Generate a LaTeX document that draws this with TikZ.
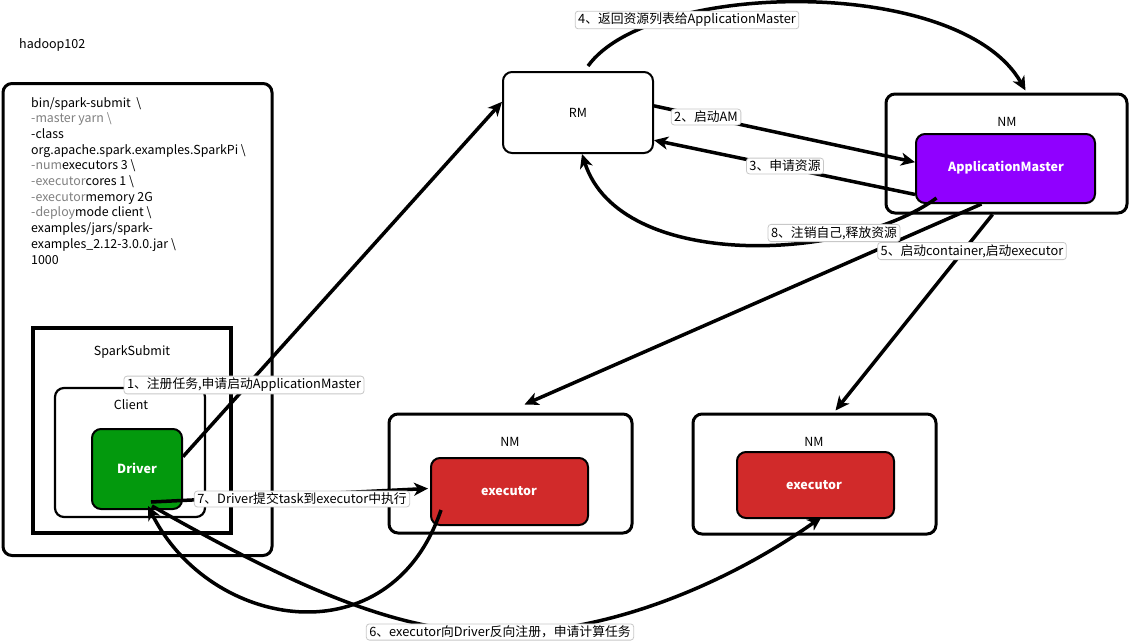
\documentclass[tikz,border=0pt]{standalone}
\usepackage{fontspec}
\setmainfont{Noto Sans CJK SC}
\usetikzlibrary{arrows.meta,calc}
\definecolor{drvgreen}{RGB}{3,153,13}
\definecolor{ampurple}{RGB}{144,0,255}
\definecolor{exred}{RGB}{209,42,42}
\definecolor{cmdgray}{RGB}{128,128,128}
\definecolor{labborder}{RGB}{200,200,200}
\tikzset{
  bigbox/.style={draw=black, line width=3pt, rounded corners=9pt, fill=white},
  sqbox/.style={draw=black, line width=3.5pt},
  inbox/.style={draw=black, line width=2.2pt, rounded corners=9pt},
  txt/.style={font=\fontsize{12.5}{14}\selectfont, inner sep=0pt},
  wtxt/.style={font=\fontsize{12.5}{14}\selectfont\bfseries, text=white, inner sep=0pt},
  arr/.style={line width=3.5pt, -{Stealth[length=14pt,width=13pt,inset=4pt]}},
  lab/.style={draw=labborder, line width=0.8pt, fill=white, rounded corners=3pt,
    inner xsep=3pt, inner ysep=2pt, font=\fontsize{12.8}{14}\selectfont}
}
\begin{document}
\begin{tikzpicture}[x=1pt,y=-1pt]
\useasboundingbox (0,0) rectangle (1129,642);
\fill[white] (0,0) rectangle (1129,642);

% host label
\node[txt, anchor=west] (host) at (19,45) {hadoop102};

% left machine
\node[bigbox, minimum width=269pt, minimum height=472pt] (outer) at (137.5,319.5) {};
\node[txt, anchor=north west, align=left, font=\fontsize{12.4}{15.7}\selectfont] (cmd) at (31,97)
 {bin/spark-submit \ \textbackslash\\
  \textcolor{cmdgray}{-master yarn \textbackslash}\\
  -class\\
  org.apache.spark.examples.SparkPi \textbackslash\\
  \textcolor{cmdgray}{-num}executors 3 \textbackslash\\
  \textcolor{cmdgray}{-executor}cores 1 \textbackslash\\
  \textcolor{cmdgray}{-executor}memory 2G\\
  \textcolor{cmdgray}{-deploy}mode client \textbackslash\\
  examples/jars/spark-\\
  examples\_2.12-3.0.0.jar \textbackslash\\
  1000};

\node[sqbox, minimum width=198pt, minimum height=205pt] (ss) at (132,430.5) {};
\node[txt] (sslab) at (132,352) {SparkSubmit};
\node[inbox, minimum width=150pt, minimum height=129pt] (client) at (130,452.5) {};
\node[txt] (clientlab) at (131,405) {Client};
\node[draw=black, line width=2pt, rounded corners=9pt, fill=drvgreen,
      minimum width=90pt, minimum height=80pt] (driver) at (137,469) {};
\node[wtxt] (drvlab) at (137,468) {Driver};

% RM
\node[draw=black, line width=2pt, rounded corners=9pt, fill=white,
      minimum width=150pt, minimum height=81pt] (rm) at (578,112.5) {};
\node[txt] (rmlab) at (578,113) {RM};

% NM with AM
\node[bigbox, minimum width=241pt, minimum height=119pt] (nm1) at (1006.5,153.5) {};
\node[txt] (nm1lab) at (1007,122) {NM};
\node[draw=black, line width=2pt, rounded corners=9pt, fill=ampurple,
      minimum width=179pt, minimum height=69pt] (am) at (1005.5,168.5) {};
\node[wtxt] (amlab) at (1006,168) {ApplicationMaster};

% NM with executor (middle)
\node[bigbox, minimum width=243pt, minimum height=119pt] (nm2) at (510.5,473.5) {};
\node[txt] (nm2lab) at (510,442) {NM};
\node[draw=black, line width=2pt, rounded corners=9pt, fill=exred,
      minimum width=157pt, minimum height=67pt] (ex1) at (509.5,491.5) {};
\node[wtxt] (ex1lab) at (509,491) {executor};

% NM with executor (right)
\node[bigbox, minimum width=243pt, minimum height=120pt] (nm3) at (814.5,474) {};
\node[txt] (nm3lab) at (814,442) {NM};
\node[draw=black, line width=2pt, rounded corners=9pt, fill=exred,
      minimum width=157pt, minimum height=66pt] (ex2) at (815.5,485) {};
\node[wtxt] (ex2lab) at (814,485) {executor};

% connectors
\draw[arr] (driver.15) -- (rm.172);
\draw[arr] (rm.5) -- (am.176);
\draw[arr] (am.196) -- (rm.-20);
\draw[arr] ($(rm.north)+(10,-5)$) .. controls (650,-20) and (960,-25) .. ($(nm1.north)+(19,-2)$);
\draw[arr] ($(am.south)+(-24,0)$) -- ($(nm2.north)+(14,-8)$);
\draw[arr] ($(nm1.south)+(-14,0)$) -- ($(nm3.north)+(21,-2)$);
\draw[arr] ($(am.south)+(-69,-6)$) .. controls (850,262) and (620,272) .. ($(rm.south)+(4,0)$);
\draw[arr] ($(ex1.south west)+(11,-16)$) .. controls (390,660) and (210,630) .. ($(driver.south)+(11,-4)$);
\draw[arr] ($(driver.south)+(15,-4)$) .. controls (300,590) and (400,633) .. (500,633)
   .. controls (620,633) and (740,575) .. ($(ex2.south)+(6,-2)$);
\draw[arr] ($(driver.south)+(14,-8)$) -- ($(ex1.west)+(-2,-3)$);

% labels
\node[lab] (l1) at (244,385) {1、注册任务,申请启动ApplicationMaster};
\node[lab] (l2) at (706,117) {2、启动AM};
\node[lab] (l3) at (785,166) {3、申请资源};
\node[lab] (l4) at (687,20) {4、返回资源列表给ApplicationMaster};
\node[lab] (l5) at (972,251) {5、启动container,启动executor};
\node[lab] (l6) at (500,632) {6、executor向Driver反向注册，申请计算任务};
\node[lab] (l7) at (302,499) {7、Driver提交task到executor中执行};
\node[lab] (l8) at (834,233) {8、注销自己,释放资源};
\end{tikzpicture}
\end{document}
